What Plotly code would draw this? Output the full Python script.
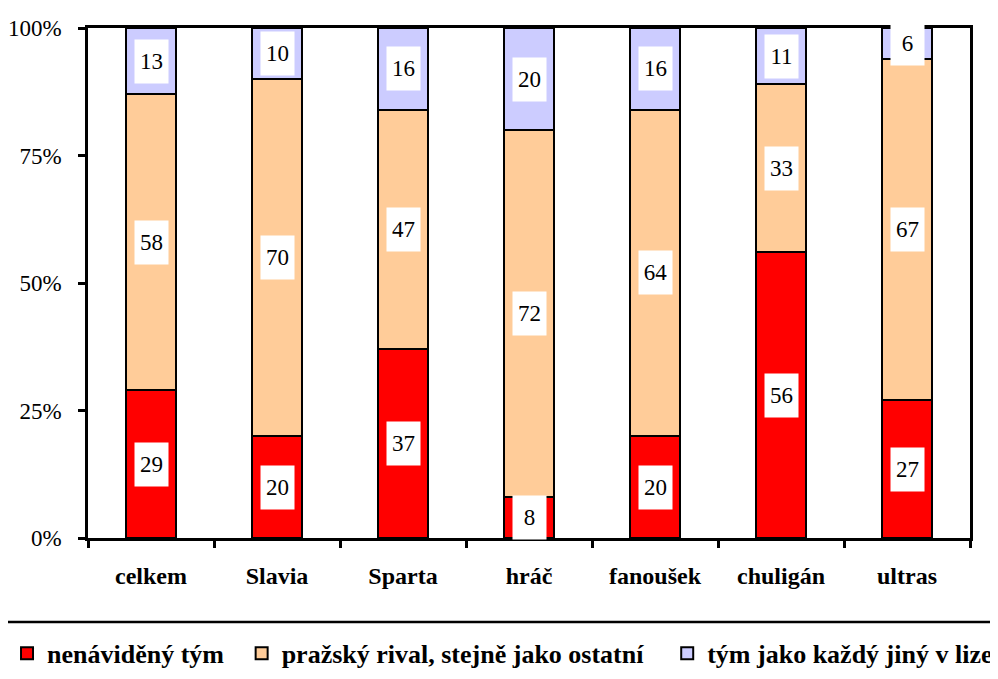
import plotly.graph_objects as go

categories = ["celkem", "Slavia", "Sparta", "hráč", "fanoušek", "chuligán", "ultras"]
hated = [29, 20, 37, 8, 20, 56, 27]
rival = [58, 70, 47, 72, 64, 33, 67]
other = [13, 10, 16, 20, 16, 11, 6]
series_names = ["nenáviděný tým", "pražský rival, stejně jako ostatní", "tým jako každý jiný v lize"]
series_colors = ["#FF0000", "#FFCC99", "#CCCCFF"]
y_ticks = [0, 25, 50, 75, 100]
y_tick_labels = ["0%", "25%", "50%", "75%", "100%"]

FONT = "Liberation Serif"
legend_ids = ["legend", "legend2", "legend3"]
legend_x = [-0.0918, 0.1742, 0.6567]

fig = go.Figure()
series = [hated, rival, other]
for name, vals, col, lid in zip(series_names, series, series_colors, legend_ids):
    fig.add_trace(go.Bar(
        x=categories, y=vals, name=name,
        marker=dict(color=col, line=dict(color="black", width=2)),
        width=0.4, legend=lid,
    ))

annotations = []
base = [0] * len(categories)
for vals in series:
    for i, v in enumerate(vals):
        annotations.append(dict(
            x=categories[i], y=base[i] + v / 2, xref="x", yref="y",
            text=str(v), showarrow=False, bgcolor="white",
            font=dict(family=FONT, size=23, color="black"),
            width=31, height=41,
        ))
        base[i] += v

legend_common = dict(
    orientation="h", xanchor="left", y=-0.226, yanchor="middle",
    font=dict(family=FONT, size=26, color="black", weight="bold"),
    bgcolor="rgba(0,0,0,0)", borderwidth=0,
)
legends = {}
for lid, lx in zip(legend_ids, legend_x):
    legends[lid] = dict(legend_common, x=lx)

fig.update_layout(
    barmode="stack",
    width=998, height=679,
    paper_bgcolor="white", plot_bgcolor="white",
    margin=dict(l=80, r=36, t=20, b=149, autoexpand=False),
    annotations=annotations,
    showlegend=True,
    shapes=[dict(type="rect", xref="paper", yref="paper",
                 x0=-0.0952, x1=1.05, y0=-0.1647, y1=-0.30,
                 line=dict(color="black", width=2.5), fillcolor="rgba(0,0,0,0)", layer="below")],
    **legends,
)
fig.update_xaxes(
    automargin=False,
    showline=True, linecolor="black", linewidth=2.5, mirror=True,
    ticks="outside", ticklen=7, tickwidth=2.5, tickcolor="black",
    tickson="boundaries", showgrid=False,
    tickfont=dict(family=FONT, size=24, color="black", weight="bold"),
    ticklabelstandoff=14,
)
fig.update_yaxes(
    automargin=False,
    range=[0, 100], tickvals=y_ticks, ticktext=y_tick_labels,
    showline=True, linecolor="black", linewidth=2.5, mirror=True,
    ticks="outside", ticklen=7, tickwidth=2.5, tickcolor="black",
    showgrid=False, zeroline=False,
    tickfont=dict(family=FONT, size=23, color="black"),
    ticklabelstandoff=12,
)

fig.write_html("out.html")
